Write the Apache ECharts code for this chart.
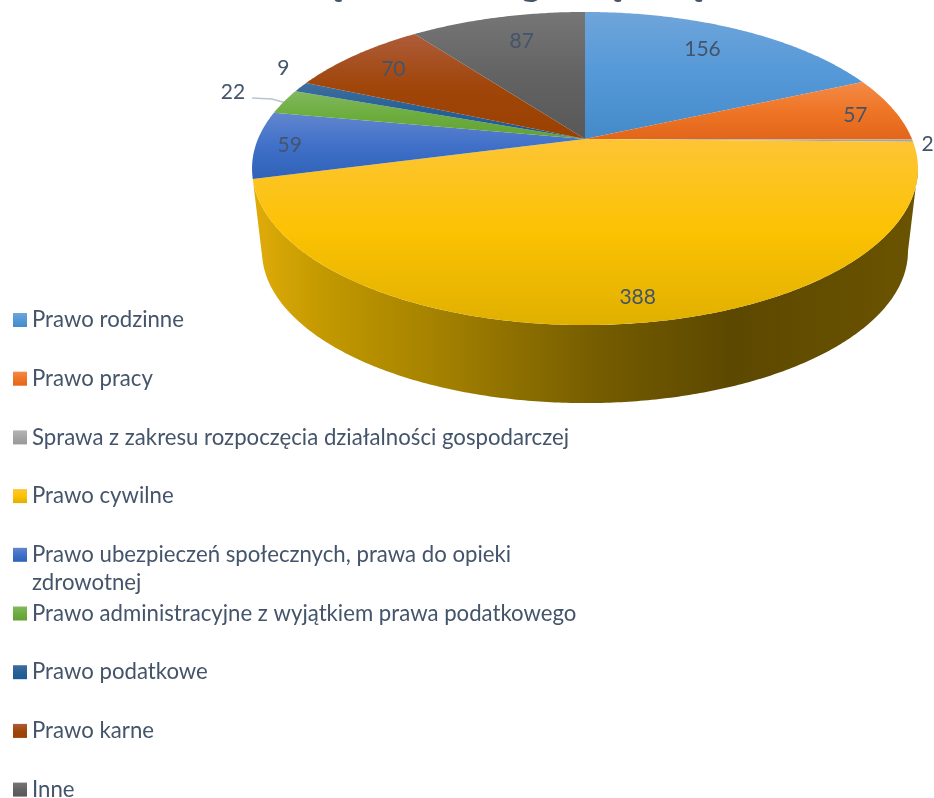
<!DOCTYPE html>
<html>
<head>
<meta charset="utf-8">
<style>
  html, body { margin: 0; padding: 0; background: #fff; }
  main { width: 934px; height: 798px; }
</style>
<script src="https://cdn.jsdelivr.net/npm/echarts@6/dist/echarts.min.js"></script>
</head>
<body>
<main></main>
<script>
const categories = [
  'Prawo rodzinne',
  'Prawo pracy',
  'Sprawa z zakresu rozpoczęcia działalności gospodarczej',
  'Prawo cywilne',
  'Prawo ubezpieczeń społecznych, prawa do opieki',
  'Prawo administracyjne z wyjątkiem prawa podatkowego',
  'Prawo podatkowe',
  'Prawo karne',
  'Inne',
]
const values = [156, 57, 2, 388, 59, 22, 9, 70, 87]
// top, middle, bottom of each slice's gradient
const shades = [
  ['#6fa5da', '#5498d8', '#458ac8'],
  ['#f48a48', '#ee7526', '#e2661a'],
  ['#b5b5b5', '#a5a5a5', '#999999'],
  ['#fdc535', '#fcc203', '#e0b000'],
  ['#6286cf', '#4070c8', '#2f62b8'],
  ['#82b85f', '#6dad3e', '#62a035'],
  ['#3f6f9e', '#266096', '#1c5a92'],
  ['#ae5c3a', '#a0460a', '#9a4000'],
  ['#767676', '#636363', '#585858'],
]
const labelRadius = [0.75, 0.87, 1.03, 0.88, 0.88, 1.2, 1.25, 0.8, 0.75]
const labelNudge = [[-2, -5], [1, 2], [5, 4], [12, 0], [-6, 1], [6, -2], [48, -7], [-4, -1], [5, -3]]
// the title is cut off by the top edge, only these descenders are readable
const titleGlyphs = ['ę', 'g', 'ą', 'ą']
const titleGlyphX = [337, 531, 612, 693]

;(function () {
  // the reference is a perspective pie: unit disc -> screen
  const cx = 585
  const apexY = 139
  const R = 327
  const B = 151
  const K = 0.1885
  const depthScale = 0.97
  const bottomApexY = 222.6

  const total = values.reduce((a, b) => a + b, 0)
  const TAU = Math.PI * 2

  function project(theta, r, scale, y0) {
    const X = Math.sin(theta) * r
    const Y = -Math.cos(theta) * r
    const w = 1 - K * Y
    return [cx + (scale * R * X) / w, y0 + (scale * B * Y) / w]
  }

  function rim(from, to, scale, y0) {
    const n = Math.max(2, Math.ceil(Math.abs(to - from) / 0.01))
    const pts = []
    for (let i = 0; i <= n; i++) pts.push(project(from + ((to - from) * i) / n, 1, scale, y0))
    return pts
  }

  function gradient(colors) {
    return new echarts.graphic.LinearGradient(0, 0, 0, 1, [
      { offset: 0, color: colors[0] },
      { offset: 0.5, color: colors[1] },
      { offset: 1, color: colors[2] },
    ])
  }

  function sliceAngles(index) {
    let before = 0
    for (let i = 0; i < index; i++) before += values[i]
    return [(before / total) * TAU, ((before + values[index]) / total) * TAU]
  }

  // the only visible wall belongs to the big yellow slice
  function renderWall(params, api) {
    const [, end] = sliceAngles(3)
    const start = Math.acos(-K)
    const top = rim(start, end, 1, apexY)
    const bottom = rim(start, end, depthScale, bottomApexY).reverse()
    return {
      type: 'polygon',
      shape: { points: top.concat(bottom) },
      style: {
        fill: new echarts.graphic.LinearGradient(0, 0, 1, 0, [
          { offset: 0, color: '#e0ac0a' },
          { offset: 0.1, color: '#c49a00' },
          { offset: 0.3, color: '#a07e00' },
          { offset: 0.52, color: '#755c00' },
          { offset: 0.72, color: '#5c4800' },
          { offset: 1, color: '#6b5400' },
        ]),
      },
    }
  }

  function renderSlice(params, api) {
    const index = params.seriesIndex - 1
    const [from, to] = sliceAngles(index)
    const mid = (from + to) / 2
    const [lx, ly] = project(mid, labelRadius[index], 1, apexY)
    return {
      type: 'group',
      children: [
        {
          type: 'polygon',
          shape: { points: [[cx, apexY]].concat(rim(from, to, 1, apexY)) },
          style: { fill: gradient(shades[index]) },
        },
        {
          type: 'text',
          z2: 10,
          style: {
            x: lx + labelNudge[index][0],
            y: ly + labelNudge[index][1],
            text: String(api.value(0)),
            fill: '#44546a',
            font: '21px Lato',
            align: 'center',
            verticalAlign: 'middle',
          },
        },
      ],
    }
  }

  const chart = echarts.init(document.querySelector('main'))
  chart.setOption({
    animation: false,
    legend: {
      orient: 'vertical',
      left: 13,
      top: 309,
      height: 520,
      padding: 0,
      itemWidth: 14,
      itemHeight: 14,
      itemGap: 36.7,
      icon: 'rect',
      textStyle: { color: '#44546a', fontFamily: 'Lato', fontSize: 22.2, height: 18, lineHeight: 18 },
      data: categories.map((name, i) => ({ name, itemStyle: { color: gradient(shades[i]) } })),
    },
    graphic: [
      {
        type: 'text',
        left: 32,
        top: 572,
        style: { text: 'zdrowotnej', fill: '#44546a', font: '22.2px Lato' },
      },
      {
        type: 'polyline',
        shape: { points: [[252, 98], [272, 99], [286, 103]] },
        style: { stroke: '#b9c4d3', lineWidth: 1.5, fill: null },
      },
      ...titleGlyphs.map((text, i) => ({
        type: 'text',
        x: titleGlyphX[i],
        y: -35,
        style: { text, fill: '#44546a', font: 'bold 38px Lato', align: 'center' },
      })),
    ],
    series: [
      { type: 'custom', name: 'wall', coordinateSystem: 'none', renderItem: renderWall, data: [[0]], silent: true },
      ...categories.map((name, i) => ({
        type: 'custom',
        name,
        coordinateSystem: 'none',
        renderItem: renderSlice,
        data: [[values[i]]],
        itemStyle: { color: shades[i][1] },
      })),
    ],
  })
})()
</script>
</body>
</html>
